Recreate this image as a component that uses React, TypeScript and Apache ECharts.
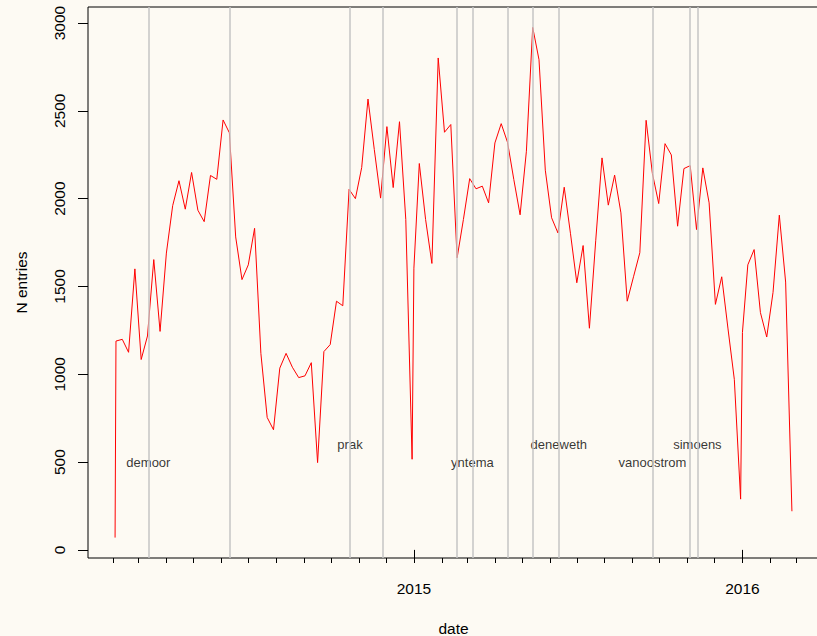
import React, { useEffect, useRef } from 'react';
import * as echarts from 'echarts';

// weekly entry counts
const values2014 = [70, 1189, 1199, 1125, 1600, 1084, 1218, 1653, 1244, 1690, 1960, 2102, 1940, 2149, 1934, 1869, 2132, 2110, 2448, 2375, 1782, 1539, 1623, 1831, 1119, 754, 684, 1035, 1119, 1040, 981, 991, 1066, 497, 1129, 1169, 1416, 1390, 2053, 2000, 2177, 2567, 2280, 2003, 2410, 2063, 2438, 1881, 516];
const values2015 = [1604, 2200, 1881, 1631, 2801, 2378, 2422, 1663, 1881, 2114, 2056, 2071, 1976, 2317, 2427, 2321, 2109, 1908, 2270, 2975, 2791, 2162, 1891, 1805, 2065, 1800, 1521, 1733, 1262, 1760, 2232, 1963, 2134, 1919, 1416, 1555, 1692, 2446, 2143, 1972, 2313, 2249, 1843, 2171, 2188, 1824, 2175, 1976, 1398, 1555, 1258, 971, 289];
const values2016 = [1238, 1623, 1710, 1351, 1212, 1466, 1906, 1525, 220];

// dates: a lone first day / year start, then weekly dates
const firstDay2014 = '2014-02-03';
const weeklyStart2014 = '2014-02-04';
const yearStart2015 = '2015-01-01';
const weeklyStart2015 = '2015-01-07';
const yearStart2016 = '2016-01-01';
const weeklyStart2016 = '2016-01-07';

// vertical event lines and their labels
const eventDates = ['2014-03-12', '2014-06-10', '2014-10-22', '2014-11-27', '2015-02-18', '2015-03-07', '2015-04-15', '2015-05-13', '2015-06-11', '2015-09-23', '2015-11-03', '2015-11-12'];
const labelNames = ['demoor', 'prak', 'yntema', 'deneweth', 'vanoostrom', 'simoens'];
const labelDates = ['2014-03-12', '2014-10-22', '2015-03-07', '2015-06-11', '2015-09-23', '2015-11-12'];
const labelHeights = [500, 600, 500, 600, 500, 600];

// axis ticks
const yTicks = [0, 500, 1000, 1500, 2000, 2500, 3000];
const yearTicks = ['2015-01-01', '2016-01-01'];
const monthTickFirst = '2014-02-01';
const monthTickCount = 26;

const DAY = 86400000;
const ts = (s: string) => Date.parse(s + 'T00:00:00Z');
const weekly = (start: string, n: number) => Array.from({ length: n }, (_, i) => ts(start) + i * 7 * DAY);

const dates2014 = [ts(firstDay2014), ...weekly(weeklyStart2014, values2014.length - 1)];
const dates2015 = [ts(yearStart2015), ...weekly(weeklyStart2015, values2015.length - 1)];
const dates2016 = [ts(yearStart2016), ...weekly(weeklyStart2016, values2016.length - 1)];

const allDates = [...dates2014, ...dates2015, ...dates2016];
const allValues = [...values2014, ...values2015, ...values2016];

const monthTicks = Array.from({ length: monthTickCount }, (_, i) => {
  const d = new Date(ts(monthTickFirst));
  return Date.UTC(d.getUTCFullYear(), d.getUTCMonth() + i, 1);
});

const FONT = "'Liberation Sans', Arial, sans-serif";

export default function App() {
  const ref = useRef<HTMLDivElement>(null);
  useEffect(() => {
    if (!ref.current) return;
    const chart = echarts.init(ref.current, undefined, { renderer: 'svg' });
    const dMin = Math.min(...allDates);
    const dMax = Math.max(...allDates);
    const xPad = (dMax - dMin) * 0.04;
    const vMin = Math.min(...allValues);
    const vMax = Math.max(...allValues);
    const yPad = (vMax - vMin) * 0.04;
    const xMin = dMin - xPad;
    const xMax = dMax + xPad;

    chart.setOption({
      animation: false,
      backgroundColor: '#fdfaf3',
      textStyle: { fontFamily: FONT, color: '#000' },
      grid: {
        left: 88, top: 7, right: -2, bottom: 78,
        containLabel: false, outerBoundsMode: 'none',
        show: true, borderColor: '#000', borderWidth: 1, backgroundColor: 'transparent',
      },
      xAxis: [
        {
          type: 'value', min: xMin, max: xMax,
          name: 'date', nameLocation: 'middle', nameGap: 62,
          nameTextStyle: { fontSize: 15.5, color: '#000', fontFamily: FONT },
          axisLine: { show: false },
          axisTick: { show: true, customValues: yearTicks.map(ts), length: 10, lineStyle: { color: '#000', width: 1 } },
          axisLabel: {
            customValues: yearTicks.map(ts),
            formatter: (v: number) => String(new Date(v).getUTCFullYear()),
            fontSize: 15.5, color: '#000', margin: 22, fontFamily: FONT,
          },
          splitLine: { show: false },
        },
        {
          type: 'value', min: xMin, max: xMax, position: 'bottom',
          axisLine: { show: false },
          axisTick: { show: true, customValues: monthTicks, length: 5, lineStyle: { color: '#000', width: 1 } },
          axisLabel: { show: false },
          splitLine: { show: false },
        },
      ],
      yAxis: {
        type: 'value', min: vMin - yPad, max: vMax + yPad,
        name: 'N entries', nameLocation: 'middle', nameGap: 59,
        nameTextStyle: { fontSize: 15.5, color: '#000', fontFamily: FONT },
        axisLine: { show: false },
        axisTick: { show: true, customValues: yTicks, length: 10, lineStyle: { color: '#000', width: 1 } },
        axisLabel: {
          customValues: yTicks, rotate: 90, margin: 21, fontSize: 15.5, color: '#000', fontFamily: FONT,
          formatter: (v: number) => String(v),
        },
        splitLine: { show: false },
      },
      series: [
        {
          type: 'line',
          data: allDates.map((d, i) => [d, allValues[i]]),
          showSymbol: false,
          lineStyle: { color: '#ff0000', width: 1 },
          itemStyle: { color: '#ff0000' },
          markLine: {
            silent: true,
            symbol: ['none', 'none'],
            label: { show: false },
            lineStyle: { color: '#c4c4c4', width: 1.5, type: 'solid' },
            data: eventDates.map((d) => ({ xAxis: ts(d) })),
          },
          z: 3,
        },
        {
          type: 'scatter',
          data: labelDates.map((d, i) => [ts(d), labelHeights[i], labelNames[i]]),
          symbolSize: 1,
          itemStyle: { color: 'transparent' },
          label: {
            show: true, position: 'inside',
            formatter: (p: any) => p.data[2],
            fontSize: 13, color: '#000', fontFamily: FONT,
          },
          z: 4,
        },
      ],
    });
    return () => chart.dispose();
  }, []);
  return <div ref={ref} style={{ position: 'fixed', left: 0, top: 0, width: 817, height: 636 }} />;
}
